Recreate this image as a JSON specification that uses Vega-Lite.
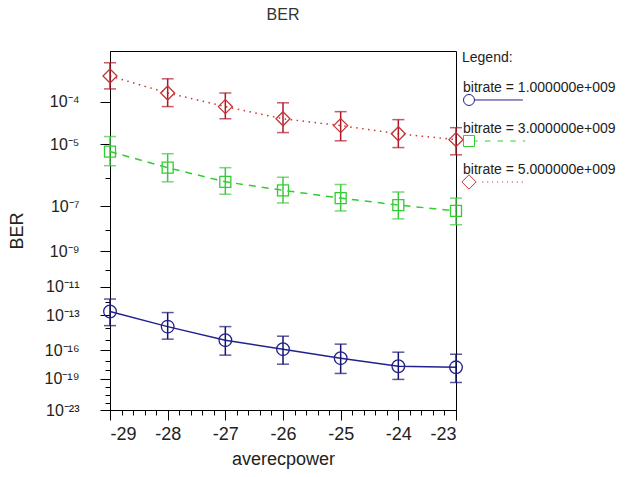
{
  "$schema": "https://vega.github.io/schema/vega-lite/v6.json",
  "width": 346,
  "height": 359,
  "autosize": "none",
  "padding": {"left": 110, "top": 51, "right": 174, "bottom": 67},
  "background": "white",
  "title": {"text": "BER", "fontSize": 16, "fontWeight": "normal", "color": "#333333", "font": "Liberation Sans", "offset": 28, "anchor": "middle"},
  "config": {
    "view": {"stroke": "#000000", "strokeWidth": 1},
    "axis": {"grid": false, "domainColor": "#000000", "tickColor": "#000000", "labelFont": "Liberation Sans", "titleFont": "Liberation Sans", "labelColor": "#222222", "titleColor": "#222222", "titleFontWeight": "normal"}
  },
  "data": {
    "values": [
      {"averecpower": -29, "bitrate": "1.000000e+009", "negLog10BER": 12.71, "lo": 11.82, "hi": 13.81},
      {"averecpower": -28, "bitrate": "1.000000e+009", "negLog10BER": 13.89, "lo": 12.79, "hi": 14.96},
      {"averecpower": -27, "bitrate": "1.000000e+009", "negLog10BER": 15.05, "lo": 13.89, "hi": 16.46},
      {"averecpower": -26, "bitrate": "1.000000e+009", "negLog10BER": 15.88, "lo": 14.70, "hi": 17.38},
      {"averecpower": -25, "bitrate": "1.000000e+009", "negLog10BER": 16.76, "lo": 15.41, "hi": 18.38},
      {"averecpower": -24, "bitrate": "1.000000e+009", "negLog10BER": 17.60, "lo": 16.17, "hi": 19.06},
      {"averecpower": -23, "bitrate": "1.000000e+009", "negLog10BER": 17.71, "lo": 16.37, "hi": 19.42},
      {"averecpower": -29, "bitrate": "3.000000e+009", "negLog10BER": 5.20, "lo": 4.80, "hi": 5.61},
      {"averecpower": -28, "bitrate": "3.000000e+009", "negLog10BER": 5.67, "lo": 5.26, "hi": 6.12},
      {"averecpower": -27, "bitrate": "3.000000e+009", "negLog10BER": 6.12, "lo": 5.67, "hi": 6.55},
      {"averecpower": -26, "bitrate": "3.000000e+009", "negLog10BER": 6.41, "lo": 5.97, "hi": 6.87},
      {"averecpower": -25, "bitrate": "3.000000e+009", "negLog10BER": 6.69, "lo": 6.21, "hi": 7.18},
      {"averecpower": -24, "bitrate": "3.000000e+009", "negLog10BER": 6.95, "lo": 6.47, "hi": 7.50},
      {"averecpower": -23, "bitrate": "3.000000e+009", "negLog10BER": 7.18, "lo": 6.69, "hi": 7.75},
      {"averecpower": -29, "bitrate": "5.000000e+009", "negLog10BER": 3.50, "lo": 3.27, "hi": 3.74},
      {"averecpower": -28, "bitrate": "5.000000e+009", "negLog10BER": 3.82, "lo": 3.55, "hi": 4.10},
      {"averecpower": -27, "bitrate": "5.000000e+009", "negLog10BER": 4.10, "lo": 3.82, "hi": 4.37},
      {"averecpower": -26, "bitrate": "5.000000e+009", "negLog10BER": 4.37, "lo": 4.02, "hi": 4.70},
      {"averecpower": -25, "bitrate": "5.000000e+009", "negLog10BER": 4.53, "lo": 4.21, "hi": 4.91},
      {"averecpower": -24, "bitrate": "5.000000e+009", "negLog10BER": 4.73, "lo": 4.39, "hi": 5.09},
      {"averecpower": -23, "bitrate": "5.000000e+009", "negLog10BER": 4.88, "lo": 4.58, "hi": 5.29}
    ]
  },
  "resolve": {"axis": {"x": "independent", "y": "independent"}},
  "layer": [
    {
      "transform": [{"filter": "datum.bitrate == '1.000000e+009'"}],
      "mark": {"type": "line", "color": "#22228c", "strokeWidth": 1.5},
      "encoding": {
        "x": {"field": "averecpower", "type": "quantitative",
              "scale": {"domain": [-29, -23], "nice": false, "zero": false},
              "axis": {"orient": "bottom", "values": [-29, -28, -27, -26, -25, -24, -23], "tickSize": 10, "labelFontSize": 18, "labelPadding": 5, "labelExpr": "'' + datum.value", "title": "averecpower", "titleFontSize": 18, "titlePadding": 7}},
        "y": {"field": "negLog10BER", "type": "quantitative",
              "scale": {"type": "pow", "exponent": -0.1, "domain": [3.08, 23], "reverse": true, "nice": false, "zero": false},
              "axis": {"orient": "left", "values": [4, 5, 7, 9, 11, 13, 16, 19, 23], "tickSize": 10, "labelFontSize": 16, "labelPadding": 21, "labelExpr": "'10⁻' + (datum.value >= 10 ? substring('⁰¹²³⁴⁵⁶⁷⁸⁹', floor(datum.value / 10), floor(datum.value / 10) + 1) : '') + substring('⁰¹²³⁴⁵⁶⁷⁸⁹', datum.value % 10, datum.value % 10 + 1)", "title": "BER", "titleFontSize": 18, "titlePadding": 18}}
      }
    },
    {
      "transform": [{"filter": "datum.bitrate == '3.000000e+009'"}],
      "mark": {"type": "line", "color": "#33cc33", "strokeWidth": 1.5, "strokeDash": [7, 6]},
      "encoding": {
        "x": {"field": "averecpower", "type": "quantitative", "axis": null},
        "y": {"field": "negLog10BER", "type": "quantitative", "axis": null}
      }
    },
    {
      "transform": [{"filter": "datum.bitrate == '5.000000e+009'"}],
      "mark": {"type": "line", "color": "#cc3333", "strokeWidth": 1.5, "strokeDash": [1.5, 4.5]},
      "encoding": {
        "x": {"field": "averecpower", "type": "quantitative", "axis": null},
        "y": {"field": "negLog10BER", "type": "quantitative", "axis": null}
      }
    },
    {
      "transform": [{"filter": "datum.bitrate == '1.000000e+009'"}],
      "mark": {"type": "errorbar", "color": "#141470", "thickness": 1.5, "ticks": {"size": 12, "thickness": 1.5}},
      "encoding": {
        "x": {"field": "averecpower", "type": "quantitative", "axis": null},
        "y": {"field": "lo", "type": "quantitative", "axis": null},
        "y2": {"field": "hi"}
      }
    },
    {
      "transform": [{"filter": "datum.bitrate == '3.000000e+009'"}],
      "mark": {"type": "errorbar", "color": "#3cc83c", "thickness": 1.5, "ticks": {"size": 12, "thickness": 1.5}},
      "encoding": {
        "x": {"field": "averecpower", "type": "quantitative", "axis": null},
        "y": {"field": "lo", "type": "quantitative", "axis": null},
        "y2": {"field": "hi"}
      }
    },
    {
      "transform": [{"filter": "datum.bitrate == '5.000000e+009'"}],
      "mark": {"type": "errorbar", "color": "#b0152a", "thickness": 1.5, "ticks": {"size": 12, "thickness": 1.5}},
      "encoding": {
        "x": {"field": "averecpower", "type": "quantitative", "axis": null},
        "y": {"field": "lo", "type": "quantitative", "axis": null},
        "y2": {"field": "hi"}
      }
    },
    {
      "transform": [{"filter": "datum.bitrate == '1.000000e+009'"}],
      "mark": {"type": "point", "shape": "circle", "filled": false, "size": 160, "color": "#22228c", "strokeWidth": 1.3, "opacity": 1},
      "encoding": {
        "x": {"field": "averecpower", "type": "quantitative", "axis": null},
        "y": {"field": "negLog10BER", "type": "quantitative", "axis": null}
      }
    },
    {
      "transform": [{"filter": "datum.bitrate == '3.000000e+009'"}],
      "mark": {"type": "point", "shape": "square", "filled": false, "size": 121, "color": "#33cc33", "strokeWidth": 1.3, "opacity": 1},
      "encoding": {
        "x": {"field": "averecpower", "type": "quantitative", "axis": null},
        "y": {"field": "negLog10BER", "type": "quantitative", "axis": null}
      }
    },
    {
      "transform": [{"filter": "datum.bitrate == '5.000000e+009'"}],
      "mark": {"type": "point", "shape": "diamond", "filled": false, "size": 196, "color": "#c03535", "strokeWidth": 1.3, "opacity": 1},
      "encoding": {
        "x": {"field": "averecpower", "type": "quantitative", "axis": null},
        "y": {"field": "negLog10BER", "type": "quantitative", "axis": null}
      }
    },
    {
      "mark": {"type": "point", "filled": false, "opacity": 0},
      "encoding": {
        "x": {"field": "averecpower", "type": "quantitative",
              "axis": {"orient": "bottom", "values": [-28.8, -28.6, -28.4, -28.2, -27.8, -27.6, -27.4, -27.2, -26.8, -26.6, -26.4, -26.2, -25.8, -25.6, -25.4, -25.2, -24.8, -24.6, -24.4, -24.2, -23.8, -23.6, -23.4, -23.2], "tickSize": 5, "labels": false, "domain": false, "title": null}},
        "y": {"field": "negLog10BER", "type": "quantitative",
              "axis": {"orient": "left", "values": [6, 8, 10, 12, 14, 15, 17, 18, 20, 21, 22], "tickSize": 5, "labels": false, "domain": false, "title": null}},
        "color": {"field": "bitrate", "type": "nominal",
                  "scale": {"domain": ["1.000000e+009", "3.000000e+009", "5.000000e+009"], "range": ["#22228c", "#33cc33", "#cc3333"]},
                  "legend": {"title": "Legend:", "orient": "right", "offset": 6, "padding": 0, "titleFont": "Liberation Sans", "titleFontSize": 14, "titleFontWeight": "normal", "titleColor": "#222222", "titlePadding": 20, "labelFont": "Liberation Sans", "labelFontSize": 14, "labelColor": "#222222", "labelExpr": "'bitrate = ' + datum.label", "labelLimit": 300, "labelOffset": -13, "labelBaseline": "alphabetic", "symbolSize": 121, "symbolStrokeWidth": 1, "symbolOpacity": 1, "rowPadding": 14}},
        "shape": {"field": "bitrate", "type": "nominal",
                  "scale": {"domain": ["1.000000e+009", "3.000000e+009", "5.000000e+009"], "range": [
                    "M-1,1.45A1,1,0,1,0,1,1.45A1,1,0,1,0,-1,1.45ZM1,1.45L9.8,1.45",
                    "M-1,0.45L1,0.45L1,2.45L-1,2.45ZM1,1.45L1.6,1.45M2.9,1.45L3.9,1.45M5.2,1.45L6.2,1.45M7.5,1.45L8.5,1.45M9.8,1.45L10.2,1.45",
                    "M0,0.15L1.3,1.45L0,2.75L-1.3,1.45ZM2.4,1.45L2.6,1.45M3.3,1.45L3.5,1.45M4.2,1.45L4.4,1.45M5.1,1.45L5.3,1.45M6,1.45L6.2,1.45M6.9,1.45L7.1,1.45M7.8,1.45L8,1.45M8.7,1.45L8.9,1.45M9.6,1.45L9.8,1.45"]},
                  "legend": {"title": "Legend:", "orient": "right", "offset": 6, "padding": 0, "titleFont": "Liberation Sans", "titleFontSize": 14, "titleFontWeight": "normal", "titleColor": "#222222", "titlePadding": 20, "labelFont": "Liberation Sans", "labelFontSize": 14, "labelColor": "#222222", "labelExpr": "'bitrate = ' + datum.label", "labelLimit": 300, "labelOffset": -13, "labelBaseline": "alphabetic", "symbolSize": 121, "symbolStrokeWidth": 1, "symbolOpacity": 1, "rowPadding": 14}}
      }
    }
  ]
}
